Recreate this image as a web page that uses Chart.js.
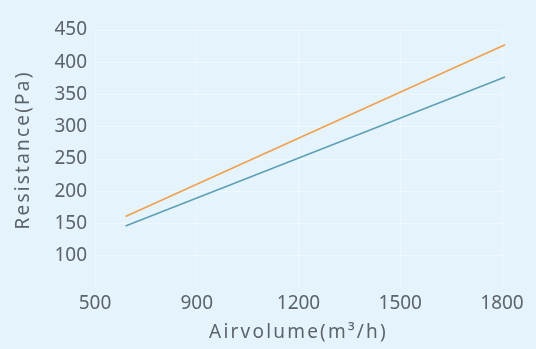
<!DOCTYPE html>
<html>
<head>
<meta charset="utf-8">
<script src="https://cdn.jsdelivr.net/npm/chart.js@4.4.1/dist/chart.umd.min.js"></script>
<style>
  html, body { margin: 0; padding: 0; background: #e5f4fc; }
  #wrap { width: 536px; height: 349px; }
</style>
</head>
<body>
<div id="wrap"><canvas id="resChart" width="536" height="349"></canvas></div>
<script>
// x axis labels are evenly spaced in the reference, so points sit on label index positions
var xLabels = ['500', '900', '1200', '1500', '1800'];
var xPos = [0.3, 4.03];
var blueValues = [146, 377];
var orangeValues = [161, 427];
var yTicks = [100, 150, 200, 250, 300, 350, 400, 450];

function toPoints(xs, ys) {
    return xs.map(function (x, i) { return { x: x, y: ys[i] }; });
}

var textColor = '#5c6369';
var fontFamily = "'Noto Sans', sans-serif";

// axis titles in the reference are letter-spaced
var origDrawTitle = Chart.Scale.prototype.drawTitle;
Chart.Scale.prototype.drawTitle = function () {
    this.ctx.save();
    this.ctx.letterSpacing = '2.2px';
    if (this.axis === 'y') this.ctx.translate(0, -9);
    origDrawTitle.apply(this, arguments);
    this.ctx.restore();
};

var ctx = document.getElementById('resChart').getContext('2d');
var resChart = new Chart(ctx, {
    type: 'line',
    data: {
        datasets: [{
            data: toPoints(xPos, orangeValues),
            borderColor: '#f0a04e',
            borderWidth: 1.6,
            pointRadius: 0,
            tension: 0,
            clip: 10
        }, {
            data: toPoints(xPos, blueValues),
            borderColor: '#5e9fb6',
            borderWidth: 1.6,
            pointRadius: 0,
            tension: 0,
            clip: 10
        }]
    },
    options: {
        responsive: false,
        animation: false,
        layout: { padding: { top: 30, right: 34, bottom: 0, left: 0 } },
        plugins: { legend: { display: false }, tooltip: { enabled: false } },
        scales: {
            x: {
                type: 'linear',
                min: 0,
                max: 4,
                afterFit: function (s) { s.height = 61; },
                afterBuildTicks: function (s) {
                    s.ticks = xLabels.map(function (l, i) { return { value: i }; });
                },
                ticks: {
                    padding: 4,
                    color: textColor,
                    font: { family: fontFamily, size: 19 },
                    callback: function (v) { return xLabels[v]; }
                },
                grid: { color: 'rgba(255,255,255,0.35)', drawTicks: false },
                border: { display: false },
                title: {
                    display: true,
                    text: 'Airvolume(m³/h)',
                    color: textColor,
                    font: { family: fontFamily, size: 19 },
                    padding: { top: 0, bottom: 5 }
                }
            },
            y: {
                min: 50,
                max: 450,
                afterFit: function (s) { s.width = 95; },
                afterBuildTicks: function (s) {
                    s.ticks = yTicks.map(function (v) { return { value: v }; });
                },
                ticks: {
                    padding: 8,
                    color: textColor,
                    font: { family: fontFamily, size: 19 }
                },
                grid: { color: 'rgba(255,255,255,0.35)', drawTicks: false },
                border: { display: false },
                title: {
                    display: true,
                    text: 'Resistance(Pa)',
                    color: textColor,
                    font: { family: fontFamily, size: 19 },
                    padding: { top: 12, bottom: 0 }
                }
            }
        }
    }
});
</script>
</body>
</html>
